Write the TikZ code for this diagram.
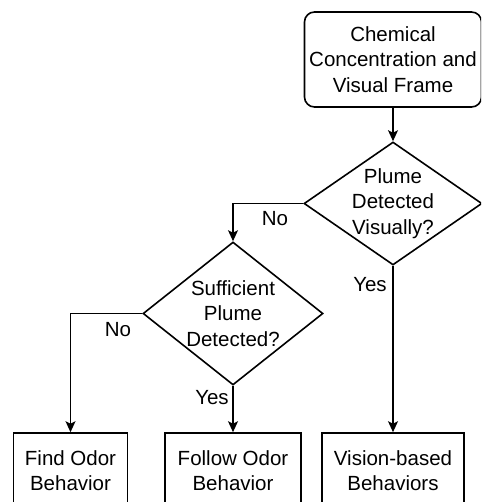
\documentclass[tikz,border=0pt]{standalone}
\usepackage{fontspec}
\setmainfont{Liberation Sans}
\usetikzlibrary{shapes.geometric,arrows.meta}

\begin{document}
\begin{tikzpicture}[x=1pt, y=-1pt,
  box/.style={draw, line width=1.6pt, inner sep=0pt, align=center},
  decision/.style={draw, diamond, line width=1.6pt, inner sep=0pt},
  flow/.style={line width=1.5pt, -{Stealth[length=11pt, width=10pt, inset=2.5pt]}}]
\def\labelfontsize{\fontsize{20.5}{25.5}\selectfont}
\useasboundingbox (0,0) rectangle (481,502);
\clip (0,0) rectangle (481,502);

% INPUT
\node[box, rounded corners=10pt, minimum width=177pt, minimum height=95pt, font=\labelfontsize] (input) at (393, 59.5) {Chemical\\Concentration and\\Visual Frame};

% DECISIONS
\node[decision, minimum width=178pt, minimum height=123pt] (visual) at (393, 203.5) {};
\node[align=center, font=\labelfontsize] (visualtext) at (visual) {Plume\\Detected\\Visually?};
\node[decision, minimum width=180pt, minimum height=143pt] (odor) at (233, 313.5) {};
\node[align=center, font=\labelfontsize] (odortext) at (odor) {Sufficient\\Plume\\Detected?};

% BEHAVIORS
\node[box, minimum width=114pt, minimum height=75pt, font=\labelfontsize] (find) at (70.5, 470.5) {Find Odor\\Behavior};
\node[box, minimum width=136pt, minimum height=75pt, font=\labelfontsize] (follow) at (233, 470.5) {Follow Odor\\Behavior};
\node[box, minimum width=142pt, minimum height=75pt, font=\labelfontsize] (vision) at (393, 470.5) {Vision-based\\Behaviors};

% CONNECTORS
\draw[flow] (input.south) -- (visual.north);
\draw[flow] (visual.west) -| (odor.north);
\draw[flow] (odor.west) -| (find.north);
\draw[flow] (odor.south) -- (follow.north);
\draw[flow] (visual.south) -- (vision.north);

\node[font=\labelfontsize] (visualno) at (275, 219) {No};
\node[font=\labelfontsize] (visualyes) at (370, 285) {Yes};
\node[font=\labelfontsize] (odorno) at (118, 330) {No};
\node[font=\labelfontsize] (odoryes) at (212, 398) {Yes};
\end{tikzpicture}
\end{document}
